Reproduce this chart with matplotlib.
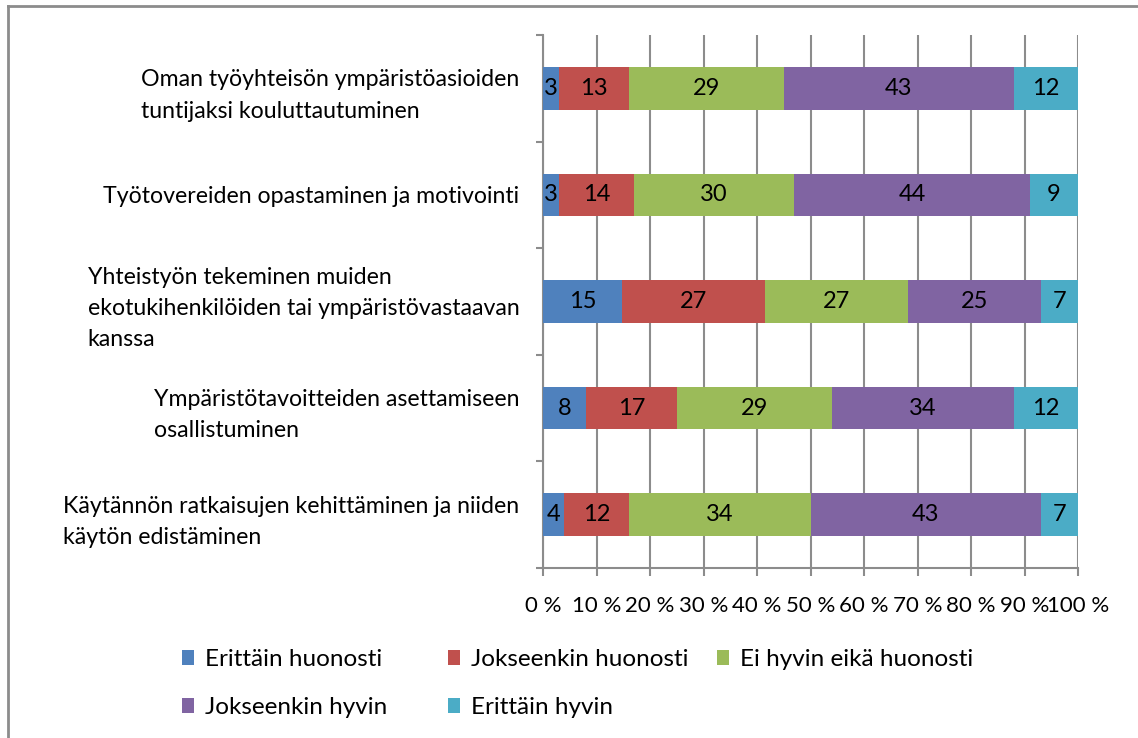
import numpy as np
import matplotlib.pyplot as plt
from matplotlib.patches import Patch
from matplotlib.lines import Line2D

plt.rcParams['font.family'] = ['Lato', 'DejaVu Sans']

# Data (percent of respondents per answer)
categories = [
    'Oman työyhteisön ympäristöasioiden\ntuntijaksi kouluttautuminen',
    'Työtovereiden opastaminen ja motivointi',
    'Yhteistyön tekeminen muiden\nekotukihenkilöiden tai ympäristövastaavan\nkanssa',
    'Ympäristötavoitteiden asettamiseen\nosallistuminen',
    'Käytännön ratkaisujen kehittäminen ja niiden\nkäytön edistäminen',
]
series = ['Erittäin huonosti', 'Jokseenkin huonosti', 'Ei hyvin eikä huonosti',
          'Jokseenkin hyvin', 'Erittäin hyvin']
erittain_huonosti = [3, 3, 15, 8, 4]
jokseenkin_huonosti = [13, 14, 27, 17, 12]
ei_hyvin_eika_huonosti = [29, 30, 27, 29, 34]
jokseenkin_hyvin = [43, 44, 25, 34, 43]
erittain_hyvin = [12, 9, 7, 12, 7]
xtick_labels = ['0 %', '10 %', '20 %', '30 %', '40 %', '50 %', '60 %', '70 %', '80 %', '90 %', '100 %']

colors = ['#4F81BD', '#C0504D', '#9BBB59', '#8064A2', '#4BACC6']
grid_col = '#8C8C8C'
fs = 16

values = np.array([erittain_huonosti, jokseenkin_huonosti, ei_hyvin_eika_huonosti,
                   jokseenkin_hyvin, erittain_hyvin], dtype=float)
shares = values / values.sum(axis=0) * 100  # 100 % stacked, like Excel

W, H = 1138, 738
fig = plt.figure(figsize=(W / 100, H / 100), dpi=100)
ax = fig.add_axes([543 / W, 1 - 568 / H, (1078 - 543) / W, (568 - 35) / H])

y = np.arange(len(categories))
left = np.zeros(len(categories))
for i, name in enumerate(series):
    b = ax.barh(y, shares[i], left=left, height=0.4, color=colors[i],
                label=name, zorder=3, edgecolor='none')
    ax.bar_label(b, labels=[f'{v:g}' for v in values[i]], label_type='center',
                 fontsize=17, color='black')
    left += shares[i]

ax.set_xlim(0, 100)
ax.set_ylim(len(categories) - 0.5, -0.5)

# x axis
ax.set_xticks(np.arange(0, 101, 10))
ax.set_xticklabels(xtick_labels, fontsize=fs)
ax.tick_params(axis='x', direction='out', length=6, width=1.5, color=grid_col, pad=14)
ax.grid(axis='x', color=grid_col, linewidth=1.5, zorder=0)

# y axis: labels at bar centres, ticks between categories
ax.set_yticks(y)
ax.set_yticklabels(categories, fontsize=16.7, multialignment='left', linespacing=1.6)
ax.set_yticks(np.arange(-0.5, len(categories), 1), minor=True)
ax.tick_params(axis='y', which='major', length=0, pad=17)
ax.tick_params(axis='y', which='minor', direction='out', length=5, width=1.5, color=grid_col)

for s in ['top', 'right']:
    ax.spines[s].set_visible(False)
for s in ['left', 'bottom']:
    ax.spines[s].set_color(grid_col)
    ax.spines[s].set_linewidth(1.5)

# legend, three columns placed like the original
cols = [[0, 3], [1, 4], [2]]
col_x = [182, 448, 717]
for idx, xpos in zip(cols, col_x):
    handles = [Patch(facecolor=colors[k], edgecolor='none') for k in idx]
    fig.legend(handles, [series[k] for k in idx], loc='upper left',
               bbox_to_anchor=(xpos / W, 1 - 649 / H), frameon=False,
               fontsize=17.5, handlelength=0.5, handleheight=0.6,
               handletextpad=0.45, labelspacing=1.12, borderpad=0, borderaxespad=0)

# outer chart border (top and left)
fig.add_artist(Line2D([8 / W, 1.0], [1 - 6 / H, 1 - 6 / H], color='#8C8C8C', linewidth=2,
                      transform=fig.transFigure))
fig.add_artist(Line2D([8 / W, 8 / W], [0, 1 - 6 / H], color='#8C8C8C', linewidth=2,
                      transform=fig.transFigure))

fig.savefig('out.png', dpi=100, facecolor='white')
